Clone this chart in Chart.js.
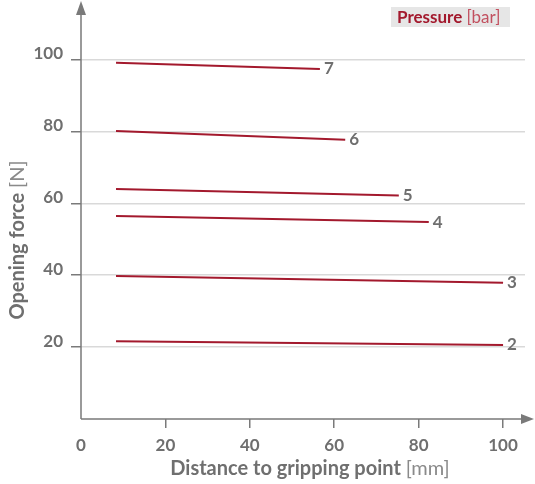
<!DOCTYPE html>
<html>
<head>
<meta charset="utf-8">
<script src="https://cdn.jsdelivr.net/npm/chart.js@4.4.1/dist/chart.umd.min.js"></script>
<style>
  html, body { margin: 0; padding: 0; background: #fff; }
  #wrap { width: 535px; height: 484px; position: relative; }
</style>
</head>
<body>
<div id="wrap"><canvas id="chart"></canvas></div>
<script>
// pressure levels [bar] and the two ends of each measured line
const pressures = ['2', '3', '4', '5', '6', '7'];
const distStart = [8.3, 8.3, 8.3, 8.3, 8.3, 8.3];
const distEnd = [100, 100, 82.4, 75.3, 62.6, 56.6];
const forceStart = [21.6, 39.8, 56.5, 64.0, 80.1, 99.1];
const forceEnd = [20.6, 37.9, 54.8, 62.2, 77.7, 97.4];
const xTicks = [0, 20, 40, 60, 80, 100];
const yTicks = [20, 40, 60, 80, 100];

const LINE = '#a3192d';
const AXIS = '#7a7a7a';
const GRID = '#d9d9d9';
const TEXT = '#6f6f6f';
const FONT = 'Lato, "DejaVu Sans", sans-serif';

const datasets = pressures.map((p, i) => ({
  label: p,
  data: [
    { x: distStart[i], y: forceStart[i] },
    { x: distEnd[i], y: forceEnd[i] }
  ],
  borderColor: LINE,
  borderWidth: 2,
  pointRadius: 0,
  fill: false,
  tension: 0
}));

// draws text made of a bold part and a normal part, starting at x
function twoPart(ctx, bold, normal, x, y, size, c1, c2) {
  ctx.font = 'bold ' + size + 'px ' + FONT;
  ctx.fillStyle = c1;
  ctx.fillText(bold, x, y);
  const w = ctx.measureText(bold).width;
  ctx.font = size + 'px ' + FONT;
  ctx.fillStyle = c2;
  ctx.fillText(normal, x + w, y);
}

function twoPartWidth(ctx, bold, normal, size) {
  ctx.font = 'bold ' + size + 'px ' + FONT;
  const w = ctx.measureText(bold).width;
  ctx.font = size + 'px ' + FONT;
  return w + ctx.measureText(normal).width;
}

// axis arrows, titles, legend box and end labels
const decor = {
  id: 'decor',
  afterDatasetsDraw(chart) {
    const ctx = chart.ctx;
    const a = chart.chartArea;
    ctx.save();

    // end-of-line pressure labels
    ctx.font = 'bold 17px ' + FONT;
    ctx.fillStyle = TEXT;
    ctx.textBaseline = 'middle';
    ctx.textAlign = 'left';
    chart.data.datasets.forEach((ds, i) => {
      const pts = chart.getDatasetMeta(i).data;
      const last = pts[pts.length - 1];
      ctx.fillText(ds.label, last.x + 4, last.y);
    });

    // axes with arrows
    ctx.strokeStyle = AXIS;
    ctx.fillStyle = AXIS;
    ctx.lineWidth = 1.5;
    ctx.beginPath();
    ctx.moveTo(a.left, a.bottom);
    ctx.lineTo(524, a.bottom);
    ctx.moveTo(a.left, a.bottom);
    ctx.lineTo(a.left, 12);
    ctx.stroke();
    ctx.beginPath();
    ctx.moveTo(534, a.bottom);
    ctx.lineTo(521, a.bottom - 5);
    ctx.lineTo(521, a.bottom + 5);
    ctx.closePath();
    ctx.fill();
    ctx.beginPath();
    ctx.moveTo(a.left, 1);
    ctx.lineTo(a.left - 5, 15);
    ctx.lineTo(a.left + 5, 15);
    ctx.closePath();
    ctx.fill();

    // x title
    const xw = twoPartWidth(ctx, 'Distance to gripping point ', '[mm]', 20);
    twoPart(ctx, 'Distance to gripping point ', '[mm]', 310 - xw / 2, 469, 20, TEXT, '#8a8a8a');

    // y title
    ctx.save();
    ctx.translate(18, 240);
    ctx.rotate(-Math.PI / 2);
    const yw = twoPartWidth(ctx, 'Opening force ', '[N]', 20);
    twoPart(ctx, 'Opening force ', '[N]', -yw / 2, 0, 20, TEXT, '#8a8a8a');
    ctx.restore();

    // legend box
    ctx.fillStyle = '#e6e6e6';
    ctx.fillRect(391, 7, 119, 20);
    twoPart(ctx, 'Pressure ', '[bar]', 397, 17.5, 17, '#a3192d', '#c2505f');

    ctx.restore();
  }
};

new Chart(document.getElementById('chart'), {
  type: 'line',
  data: { datasets },
  options: {
    responsive: true,
    maintainAspectRatio: false,
    animation: false,
    layout: { padding: { top: 20, right: 10, left: 0, bottom: 0 } },
    plugins: {
      legend: { display: false },
      tooltip: { enabled: false }
    },
    scales: {
      x: {
        type: 'linear',
        min: 0,
        max: 105.2,
        afterBuildTicks: s => { s.ticks = xTicks.map(v => ({ value: v })); },
        afterFit: s => { s.height = 65; },
        border: { display: false },
        grid: {
          drawOnChartArea: false,
          drawTicks: true,
          tickLength: 9,
          tickColor: c => (c.tick && c.tick.value === 0 ? 'rgba(0,0,0,0)' : AXIS),
          lineWidth: 1.5
        },
        ticks: {
          color: TEXT,
          padding: 7,
          maxRotation: 0,
          font: { family: FONT, size: 17, weight: 'bold' }
        }
      },
      y: {
        min: 0,
        max: 111,
        afterBuildTicks: s => { s.ticks = yTicks.map(v => ({ value: v })); },
        afterFit: s => { s.width = 81; },
        border: { display: false },
        grid: {
          color: GRID,
          lineWidth: 1.5,
          drawTicks: true,
          tickLength: 10,
          tickColor: AXIS
        },
        ticks: {
          color: TEXT,
          padding: 8,
          labelOffset: -6,
          font: { family: FONT, size: 17, weight: 'bold' }
        }
      }
    }
  },
  plugins: [decor]
});
</script>
</body>
</html>
